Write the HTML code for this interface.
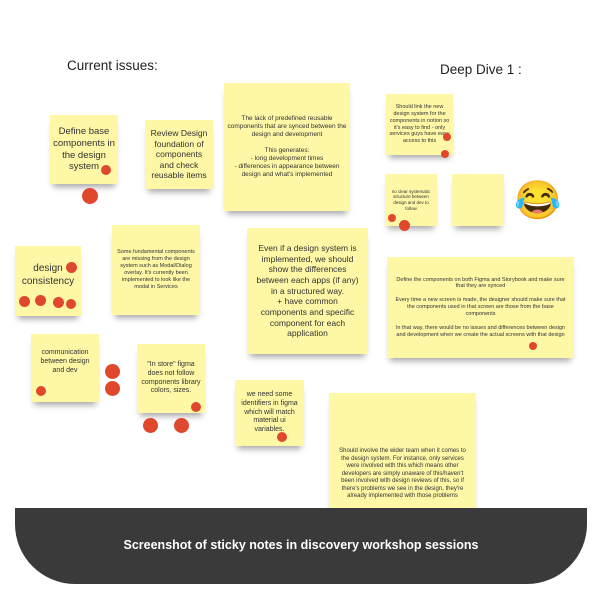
<!DOCTYPE html>
<html><head><meta charset="utf-8"><style>
html,body{margin:0;padding:0;background:#fff;}
body{width:600px;height:600px;position:relative;overflow:hidden;font-family:"Liberation Sans",sans-serif;}
.n{position:absolute;background:#fdf7a6;box-shadow:0 6px 6px -3px rgba(0,0,0,0.35);display:flex;align-items:center;justify-content:center;text-align:center;color:#333;box-sizing:border-box;padding:3px;line-height:1.25;}
.d{position:absolute;background:#e0482e;border-radius:50%;}
.t{position:absolute;font-size:13.5px;color:#222;}
</style></head><body>
<div class="t" style="left:67px;top:58px;">Current issues:</div>
<div class="t" style="left:440px;top:62px;">Deep Dive 1 :</div>

<div class="n" style="left:50px;top:115px;width:68px;height:69px;font-size:9.5px;">Define base components in the design system</div>
<div class="n" style="left:145px;top:120px;width:68px;height:69px;font-size:8.5px;">Review Design foundation of components and check reusable items</div>
<div class="n" style="left:224px;top:83px;width:126px;height:128px;font-size:6.5px;">The lack of predefined reusable components that are synced between the design and development<br><br>This generates:<br>- long development times<br>- differences in appearance between design and what's implemented</div>
<div class="n" style="left:15px;top:246px;width:66px;height:70px;font-size:10px;padding-bottom:14px;">design consistency</div>
<div class="n" style="left:112px;top:225px;width:88px;height:90px;font-size:5.5px;">Some fundamental components are missing from the design system such as Modal/Dialog overlay. It's currently been implemented to look like the modal in Services</div>
<div class="n" style="left:247px;top:228px;width:121px;height:126px;font-size:8.5px;padding:3px 6px;">Even if a design system is implemented, we should show the differences between each apps (if any) in a structured way.<br>+ have common components and specific component for each application</div>
<div class="n" style="left:31px;top:334px;width:68px;height:68px;font-size:7px;padding-bottom:14px;">communication between design and dev</div>
<div class="n" style="left:137px;top:344px;width:68px;height:69px;font-size:7px;">"In store" figma does not follow components library colors, sizes.</div>
<div class="n" style="left:235px;top:380px;width:69px;height:66px;font-size:7px;">we need some identifiers in figma which will match material ui variables.</div>
<div class="n" style="left:329px;top:393px;width:147px;height:118px;font-size:6px;padding-top:48px;padding-left:6px;padding-right:6px;">Should involve the wider team when it comes to the design system. For instance, only services were involved with this which means other developers are simply unaware of this/haven't been involved with design reviews of this, so if there's problems we see in the design, they're already implemented with those problems</div>

<div class="n" style="left:386px;top:94px;width:67px;height:61px;font-size:5.5px;">Should link the new design system for the components in notion so it's easy to find - only services guys have easy access to this</div>
<div class="n" style="left:385px;top:174px;width:52px;height:52px;font-size:4.5px;">no clear systematic structure between design and dev to follow</div>
<div class="n" style="left:452px;top:174px;width:52px;height:52px;"></div>
<div style="position:absolute;left:514px;top:182px;font-size:38px;line-height:1;">😂</div>
<div class="n" style="left:387px;top:257px;width:187px;height:101px;font-size:5.5px;padding:0 8px;">Define the components on both Figma and Storybook and make sure that they are synced<br><br>Every time a new screen is made, the designer should make sure that the components used in that screen are those from the base components<br><br>In that way, there would be no issues and differences between design and development when we create the actual screens with that design</div>

<div class="d" style="left:101px;top:165px;width:10px;height:10px;"></div>
<div class="d" style="left:82px;top:188px;width:16px;height:16px;"></div>
<div class="d" style="left:66px;top:262px;width:11px;height:11px;"></div>
<div class="d" style="left:19px;top:296px;width:11px;height:11px;"></div>
<div class="d" style="left:35px;top:295px;width:11px;height:11px;"></div>
<div class="d" style="left:53px;top:297px;width:11px;height:11px;"></div>
<div class="d" style="left:66px;top:299px;width:10px;height:10px;"></div>
<div class="d" style="left:36px;top:386px;width:10px;height:10px;"></div>
<div class="d" style="left:105px;top:364px;width:15px;height:15px;"></div>
<div class="d" style="left:105px;top:381px;width:15px;height:15px;"></div>
<div class="d" style="left:191px;top:402px;width:10px;height:10px;"></div>
<div class="d" style="left:143px;top:418px;width:15px;height:15px;"></div>
<div class="d" style="left:174px;top:418px;width:15px;height:15px;"></div>
<div class="d" style="left:277px;top:432px;width:10px;height:10px;"></div>
<div class="d" style="left:443px;top:133px;width:8px;height:8px;"></div>
<div class="d" style="left:441px;top:150px;width:8px;height:8px;"></div>
<div class="d" style="left:388px;top:214px;width:8px;height:8px;"></div>
<div class="d" style="left:399px;top:220px;width:11px;height:11px;"></div>
<div class="d" style="left:529px;top:342px;width:8px;height:8px;"></div>

<div style="position:absolute;left:15px;top:508px;width:572px;height:76px;background:#3a3a3a;border-radius:0 0 60px 60px;color:#fff;font-weight:bold;font-size:12.5px;text-align:center;box-sizing:border-box;padding-top:30px;">Screenshot of sticky notes in discovery workshop sessions</div>
</body></html>
